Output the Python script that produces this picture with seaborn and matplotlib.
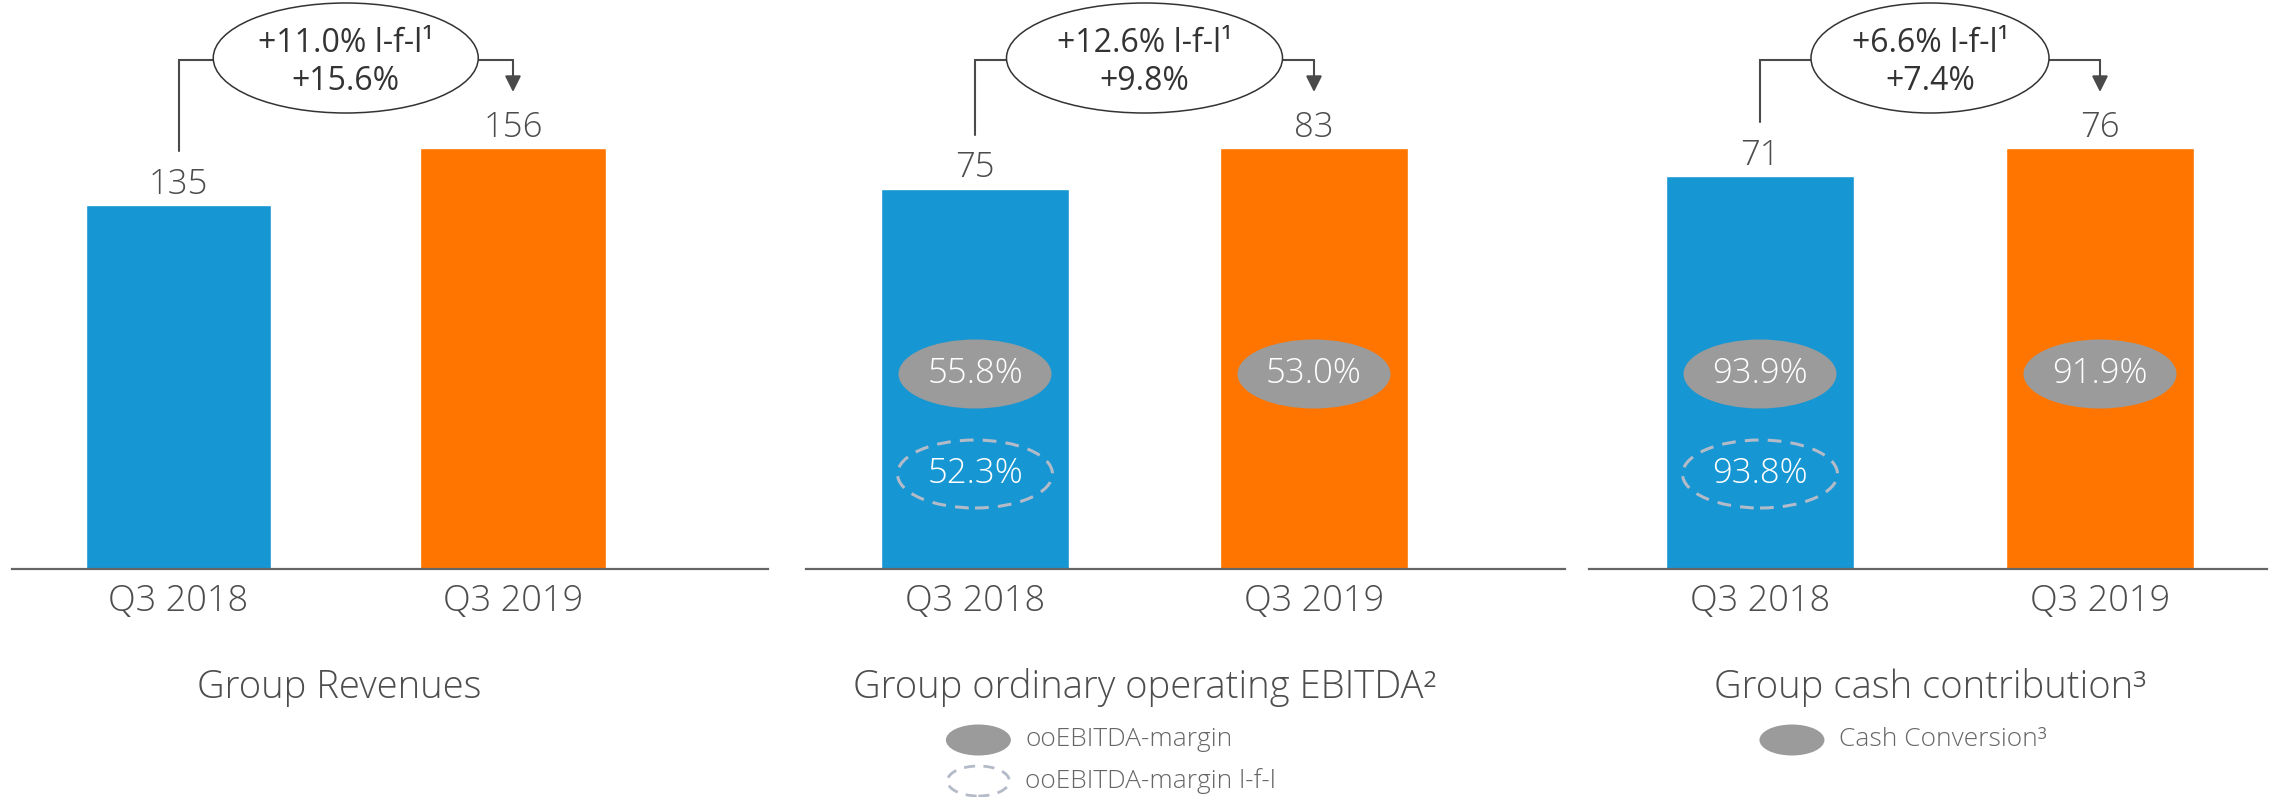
import matplotlib
matplotlib.use("Agg")
import matplotlib.pyplot as plt
import seaborn as sns
import pandas as pd
from matplotlib.patches import Ellipse

# ---------------- data ----------------
periods = ["Q3 2018", "Q3 2019"]
revenues = [135, 156]
ebitda = [75, 83]
cash = [71, 76]
titles = ["Group Revenues", "Group ordinary operating EBITDA²", "Group cash contribution³"]
growth_lfl = ["+11.0% l-f-l¹", "+12.6% l-f-l¹", "+6.6% l-f-l¹"]
growth_rep = ["+15.6%", "+9.8%", "+7.4%"]
margin_labels = [[None, None], ["55.8%", "53.0%"], ["93.9%", "91.9%"]]
margin_lfl_labels = [[None, None], ["52.3%", None], ["93.8%", None]]
legend_filled = [None, "ooEBITDA-margin", "Cash Conversion³"]
legend_dashed = [None, "ooEBITDA-margin l-f-l", None]

# ---------------- style ----------------
sns.set_theme(style="white")
plt.rcParams["font.family"] = ["Open Sans", "DejaVu Sans"]
BLUE = "#1696D2"
ORANGE = "#FF7500"
GREY = "#9B9B9B"
DASH = "#B3BAC8"
TXT = "#4D4D4D"
LINE = "#4A4A4A"

W, H = 2272, 797
BASE = 569.0  # baseline, px from top; axes span from top of figure to baseline
panels = [
    dict(left=12, right=768, c0=178.5, sp=334.5, ew=265, lgx=0.0, tx=0.48),
    dict(left=806, right=1565, c0=975, sp=339, ew=276, lgx=0.01, tx=0.5),
    dict(left=1589, right=2267, c0=1760, sp=340, ew=238, lgx=0.094, tx=0.5),
]
series = [revenues, ebitda, cash]

fig = plt.figure(figsize=(W / 100, H / 100), dpi=100)


def fy(px):
    """absolute px from top -> axes fraction"""
    return (BASE - px) / BASE


for k, (p, vals) in enumerate(zip(panels, series)):
    ax = fig.add_axes([p["left"] / W, (H - BASE) / H, (p["right"] - p["left"]) / W, BASE / H])
    df = pd.DataFrame({"period": periods, "value": vals})
    sns.barplot(data=df, x="period", y="value", hue="period", palette=[BLUE, ORANGE],
                width=0.555, saturation=1, legend=False, ax=ax)
    ytop = max(vals) * BASE / 421.0
    ax.set_xlim((p["left"] - p["c0"]) / p["sp"], (p["right"] - p["c0"]) / p["sp"])
    ax.set_ylim(0, ytop)
    ax.set_yticks([])
    ax.set_xlabel("")
    ax.set_ylabel("")
    for s in ["top", "left", "right"]:
        ax.spines[s].set_visible(False)
    ax.spines["bottom"].set_color("#666666")
    ax.spines["bottom"].set_linewidth(1.6)
    ax.tick_params(axis="x", length=0, pad=10, labelsize=26, labelcolor=TXT)
    for lab in ax.get_xticklabels():
        lab.set_fontweight("light")
    tr = ax.get_xaxis_transform()

    # value labels
    for i, v in enumerate(vals):
        ax.annotate(f"{v}", (i, v), xytext=(0, 8), textcoords="offset points",
                    ha="center", va="baseline", fontsize=25, color=TXT, fontweight="light")

    # bracket with growth ellipse
    fr = [v / ytop for v in vals]
    y_left = fr[0] + 54 / BASE
    y_tip = fr[1] + 56 / BASE
    y_h = fy(60)
    ax.plot([0, 0, 1], [y_left, y_h, y_h], color=LINE, lw=1.5, transform=tr,
            clip_on=False, zorder=3, solid_joinstyle="miter")
    ax.annotate("", xy=(1, y_tip), xytext=(1, y_h), xycoords=tr, textcoords=tr,
                arrowprops=dict(arrowstyle="-|>", color=LINE, lw=1.5, mutation_scale=24,
                                shrinkA=0, shrinkB=0), annotation_clip=False, zorder=3)
    ell = Ellipse((0.5, fy(58)), p["ew"] / p["sp"], 110 / BASE, transform=tr,
                  facecolor="white", edgecolor="#333333", lw=1.1, clip_on=False, zorder=4)
    ax.add_patch(ell)
    ax.text(0.5, fy(62), growth_lfl[k] + "\n" + growth_rep[k], transform=tr,
            ha="center", va="center", multialignment="center", fontsize=23, color="#333333",
            linespacing=1.2, zorder=5, clip_on=False)

    # margin ellipses inside bars
    for i in range(2):
        if margin_labels[k][i]:
            ax.add_patch(Ellipse((i, fy(374)), 153 / p["sp"], 69 / BASE, transform=tr,
                                 facecolor=GREY, edgecolor="none", zorder=4))
            ax.text(i, fy(374), margin_labels[k][i], transform=tr, ha="center", va="center",
                    fontsize=25, color="white", fontweight="light", zorder=5)
        if margin_lfl_labels[k][i]:
            ax.add_patch(Ellipse((i, fy(474)), 155 / p["sp"], 68 / BASE, transform=tr,
                                 facecolor="none", edgecolor=DASH, lw=2.2, ls=(0, (4.5, 3)),
                                 zorder=4))
            ax.text(i, fy(474), margin_lfl_labels[k][i], transform=tr, ha="center",
                    va="center", fontsize=25, color="white", fontweight="light", zorder=5)

    # panel title
    ax.text(p["tx"], fy(698), titles[k], transform=tr, ha="center", va="baseline",
            fontsize=27.5, color=TXT, clip_on=False, fontweight="light")

    # legend
    lx = p["lgx"]
    if legend_filled[k]:
        ax.add_patch(Ellipse((lx, fy(740)), 65 / p["sp"], 31 / BASE, transform=tr,
                             facecolor=GREY, edgecolor="none", clip_on=False))
        ax.text(lx + 47 / p["sp"], fy(740), legend_filled[k], transform=tr, ha="left",
                va="center", fontsize=19, color="#666666", clip_on=False, fontweight="light")
    if legend_dashed[k]:
        ax.add_patch(Ellipse((lx, fy(781)), 62 / p["sp"], 30 / BASE, transform=tr,
                             facecolor="none", edgecolor=DASH, lw=2, ls=(0, (4, 3)),
                             clip_on=False))
        ax.text(lx + 47 / p["sp"], fy(781), legend_dashed[k], transform=tr, ha="left",
                va="center", fontsize=19, color="#666666", clip_on=False, fontweight="light")

fig.savefig("out.png", dpi=100)
